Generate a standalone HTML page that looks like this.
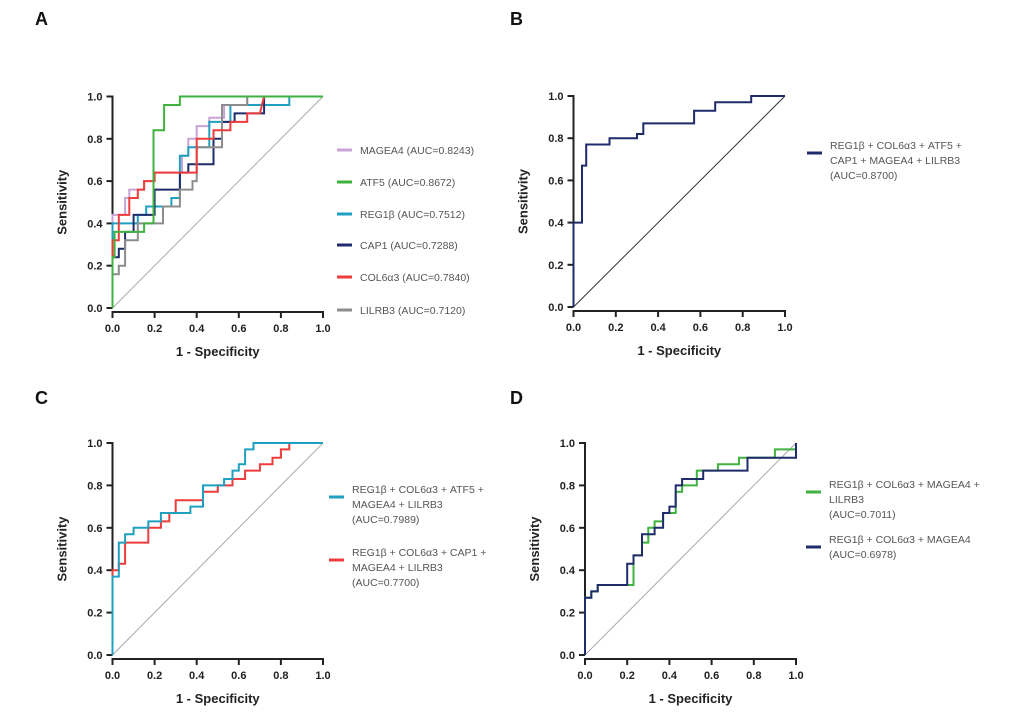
<!DOCTYPE html>
<html><head><meta charset="utf-8"><style>
body{margin:0;background:#fff;}
svg{display:block;font-family:"Liberation Sans",sans-serif;}
.tick{font-size:11px;font-weight:bold;fill:#222;}
.leg{font-size:10.5px;fill:#555;}
.ttl{font-size:13px;font-weight:bold;fill:#222;}
.pl{font-size:18px;font-weight:bold;fill:#111;}
</style></head><body>
<svg id="c" width="1022" height="720"></svg>
<script>
const ticks=[0,0.2,0.4,0.6,0.8,1.0];
const tickLabels=["0.0","0.2","0.4","0.6","0.8","1.0"];
const magea4=[[0,0],[0,0.44],[0.06,0.44],[0.06,0.52],[0.08,0.52],[0.08,0.56],[0.15,0.56],[0.15,0.6],[0.2,0.6],[0.2,0.64],[0.33,0.64],[0.33,0.72],[0.36,0.72],[0.36,0.8],[0.4,0.8],[0.4,0.86],[0.46,0.86],[0.46,0.9],[0.53,0.9],[0.53,0.96],[0.64,0.96],[0.64,1],[1,1]];
const atf5=[[0,0],[0,0.24],[0.01,0.24],[0.01,0.36],[0.15,0.36],[0.15,0.4],[0.195,0.4],[0.195,0.84],[0.245,0.84],[0.245,0.96],[0.32,0.96],[0.32,1],[1,1]];
const reg1b=[[0,0],[0,0.4],[0.12,0.4],[0.12,0.44],[0.16,0.44],[0.16,0.48],[0.28,0.48],[0.28,0.52],[0.32,0.52],[0.32,0.72],[0.36,0.72],[0.36,0.76],[0.46,0.76],[0.46,0.88],[0.56,0.88],[0.56,0.96],[0.84,0.96],[0.84,1],[1,1]];
const cap1=[[0,0],[0,0.24],[0.03,0.24],[0.03,0.28],[0.06,0.28],[0.06,0.36],[0.1,0.36],[0.1,0.44],[0.2,0.44],[0.2,0.56],[0.32,0.56],[0.32,0.64],[0.36,0.64],[0.36,0.68],[0.48,0.68],[0.48,0.8],[0.52,0.8],[0.52,0.88],[0.58,0.88],[0.58,0.92],[0.72,0.92],[0.72,1],[1,1]];
const col6a3=[[0,0],[0,0.32],[0.03,0.32],[0.03,0.44],[0.08,0.44],[0.08,0.52],[0.12,0.52],[0.12,0.56],[0.15,0.56],[0.15,0.6],[0.2,0.6],[0.2,0.64],[0.4,0.64],[0.4,0.8],[0.48,0.8],[0.48,0.84],[0.56,0.84],[0.56,0.88],[0.64,0.88],[0.64,0.92],[0.7,0.92],[0.72,1],[1,1]];
const lilrb3=[[0,0],[0,0.16],[0.03,0.16],[0.03,0.2],[0.06,0.2],[0.06,0.32],[0.12,0.32],[0.12,0.4],[0.24,0.4],[0.24,0.48],[0.32,0.48],[0.32,0.56],[0.38,0.56],[0.38,0.6],[0.4,0.6],[0.4,0.76],[0.52,0.76],[0.52,0.96],[0.64,0.96],[0.64,1],[1,1]];
const comboB=[[0,0],[0,0.4],[0.04,0.4],[0.04,0.67],[0.06,0.67],[0.06,0.77],[0.17,0.77],[0.17,0.8],[0.3,0.8],[0.3,0.82],[0.33,0.82],[0.33,0.87],[0.57,0.87],[0.57,0.93],[0.67,0.93],[0.67,0.97],[0.84,0.97],[0.84,1],[1,1]];
const comboC1=[[0,0],[0,0.37],[0.03,0.37],[0.03,0.53],[0.06,0.53],[0.06,0.57],[0.1,0.57],[0.1,0.6],[0.17,0.6],[0.17,0.63],[0.23,0.63],[0.23,0.67],[0.37,0.67],[0.37,0.7],[0.43,0.7],[0.43,0.8],[0.53,0.8],[0.53,0.83],[0.57,0.83],[0.57,0.87],[0.6,0.87],[0.6,0.9],[0.63,0.9],[0.63,0.97],[0.67,0.97],[0.67,1],[1,1]];
const comboC2=[[0,0],[0,0.4],[0.03,0.4],[0.03,0.43],[0.06,0.43],[0.06,0.53],[0.17,0.53],[0.17,0.6],[0.23,0.6],[0.23,0.63],[0.27,0.63],[0.27,0.67],[0.3,0.67],[0.3,0.73],[0.43,0.73],[0.43,0.77],[0.5,0.77],[0.5,0.8],[0.57,0.8],[0.57,0.83],[0.63,0.83],[0.63,0.87],[0.7,0.87],[0.7,0.9],[0.76,0.9],[0.76,0.93],[0.8,0.93],[0.8,0.97],[0.84,0.97],[0.84,1],[1,1]];
const comboD1=[[0,0],[0,0.27],[0.03,0.27],[0.03,0.3],[0.06,0.3],[0.06,0.33],[0.23,0.33],[0.23,0.47],[0.27,0.47],[0.27,0.53],[0.3,0.53],[0.3,0.6],[0.33,0.6],[0.33,0.63],[0.37,0.63],[0.37,0.67],[0.43,0.67],[0.43,0.77],[0.46,0.77],[0.46,0.8],[0.53,0.8],[0.53,0.87],[0.63,0.87],[0.63,0.9],[0.73,0.9],[0.73,0.93],[0.9,0.93],[0.9,0.97],[1,0.97],[1,1]];
const comboD2=[[0,0],[0,0.27],[0.03,0.27],[0.03,0.3],[0.06,0.3],[0.06,0.33],[0.2,0.33],[0.2,0.43],[0.23,0.43],[0.23,0.47],[0.27,0.47],[0.27,0.57],[0.33,0.57],[0.33,0.6],[0.37,0.6],[0.37,0.67],[0.4,0.67],[0.4,0.7],[0.43,0.7],[0.43,0.8],[0.46,0.8],[0.46,0.83],[0.56,0.83],[0.56,0.87],[0.77,0.87],[0.77,0.93],[1,0.93],[1,1]];

const NS="http://www.w3.org/2000/svg";
const svg=document.getElementById('c');
function mk(t,a,p){const e=document.createElementNS(NS,t);for(const k in a)e.setAttribute(k,a[k]);(p||svg).appendChild(e);return e;}

const panels=[
 {id:'a',letter:'A',lx:35,ly:25,x0:112.5,x1:323,y0:308,y1:96.5,diag:'#aaa',
  series:[[magea4,'#c9a3d6','magea4'],[reg1b,'#1fa0c0','reg1b'],[cap1,'#1f2b6b','cap1'],[lilrb3,'#8c8c8c','lilrb3'],[col6a3,'#ee3b3b','col6a3'],[atf5,'#3fb23f','atf5']],
  legend:[{c:'#c9a3d6',y:150,lines:['MAGEA4 (AUC=0.8243)']},{c:'#3fb23f',y:182,lines:['ATF5 (AUC=0.8672)']},{c:'#1fa0c0',y:214,lines:['REG1β (AUC=0.7512)']},{c:'#1f2b6b',y:245,lines:['CAP1 (AUC=0.7288)']},{c:'#ee3b3b',y:277,lines:['COL6α3 (AUC=0.7840)']},{c:'#8c8c8c',y:310,lines:['LILRB3 (AUC=0.7120)']}],legX:337},
 {id:'b',letter:'B',lx:510,ly:25,x0:573.5,x1:785,y0:307,y1:96,diag:'#333',
  series:[[comboB,'#1f2b6b','combo-6']],
  legend:[{c:'#1f2b6b',y:153,lines:['REG1β + COL6α3 + ATF5 +','CAP1 + MAGEA4 + LILRB3','(AUC=0.8700)']}],legX:807},
 {id:'c',letter:'C',lx:35,ly:404,x0:112.5,x1:323,y0:655,y1:443,diag:'#aaa',
  series:[[comboC2,'#ee3b3b','combo-cap1'],[comboC1,'#1fa0c0','combo-atf5']],
  legend:[{c:'#1fa0c0',y:497,lines:['REG1β + COL6α3 + ATF5 +','MAGEA4 + LILRB3','(AUC=0.7989)']},{c:'#ee3b3b',y:560,lines:['REG1β + COL6α3 + CAP1 +','MAGEA4 + LILRB3','(AUC=0.7700)']}],legX:329},
 {id:'d',letter:'D',lx:510,ly:404,x0:585,x1:796,y0:655,y1:443,diag:'#aaa',
  series:[[comboD1,'#3fb23f','combo-lilrb3'],[comboD2,'#1f2b6b','combo-magea4']],
  legend:[{c:'#3fb23f',y:492,lines:['REG1β + COL6α3 + MAGEA4 +','LILRB3','(AUC=0.7011)']},{c:'#1f2b6b',y:547,lines:['REG1β + COL6α3 + MAGEA4','(AUC=0.6978)']}],legX:806}
];

panels.forEach(p=>{
 const g=mk('g',{});
 
 
 const sx=v=>p.x0+v*(p.x1-p.x0), sy=v=>p.y0+v*(p.y1-p.y0);
 const L=mk('text',{x:p.lx,y:p.ly,class:'pl'},g);L.textContent=p.letter;
 
 
 const ya=mk('line',{x1:p.x0,y1:sy(0),x2:p.x0,y2:sy(1)-1,stroke:'#222','stroke-width':2},g);
 
 
 const xa=mk('line',{x1:sx(0)-1,y1:p.y0+4,x2:sx(1)+1,y2:p.y0+4,stroke:'#222','stroke-width':2},g);
 
 
 ticks.forEach((t,i)=>{
  mk('line',{x1:p.x0-6,y1:sy(t),x2:p.x0,y2:sy(t),stroke:'#222','stroke-width':2},g);
  mk('line',{x1:sx(t),y1:p.y0+4,x2:sx(t),y2:p.y0+10,stroke:'#222','stroke-width':2},g);
  const yl=mk('text',{x:p.x0-10,y:sy(t)+4,class:'tick','text-anchor':'end'},g);yl.textContent=tickLabels[i];
  
  
  const xl=mk('text',{x:sx(t),y:p.y0+24,class:'tick','text-anchor':'middle'},g);xl.textContent=tickLabels[i];
  
  
 });
 const yt=mk('text',{x:0,y:0,class:'ttl','text-anchor':'middle',transform:`translate(${p.x0-46},${(p.y0+p.y1)/2}) rotate(-90)`},g);yt.textContent='Sensitivity';
 
 
 const xt=mk('text',{x:(p.x0+p.x1)/2,y:p.y0+48,class:'ttl','text-anchor':'middle'},g);xt.textContent='1 - Specificity';
 
 
 const dg=mk('line',{x1:sx(0),y1:sy(0),x2:sx(1),y2:sy(1),stroke:p.diag,'stroke-width':1},g);
 
 
 p.series.forEach(s=>{
  const pts=s[0].map(q=>sx(q[0]).toFixed(1)+','+sy(q[1]).toFixed(1)).join(' ');
  const pl=mk('polyline',{points:pts,fill:'none',stroke:s[1],'stroke-width':2},g);
  
  
 });
 p.legend.forEach(l=>{
  const lg=mk('g',{},g);
  
  
  mk('line',{x1:p.legX,y1:l.y,x2:p.legX+15,y2:l.y,stroke:l.c,'stroke-width':3},lg);
  const n=l.lines.length;
  l.lines.forEach((t,i)=>{const tx=mk('text',{x:p.legX+23,y:(n>1?l.y-8+4:l.y+4)+i*15,class:'leg'},lg);tx.textContent=t;});
 });
});
</script>
</body></html>
